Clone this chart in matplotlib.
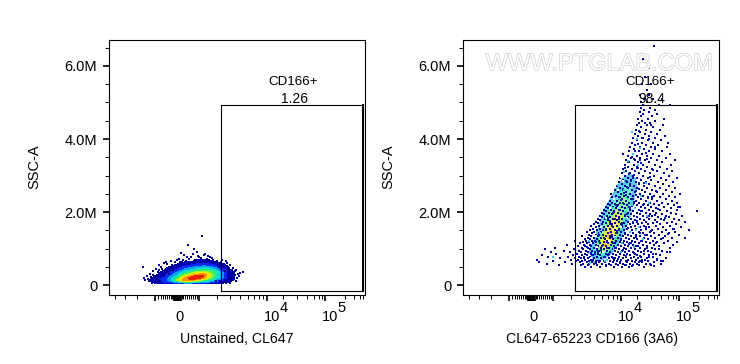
import matplotlib
matplotlib.use('Agg')
import matplotlib.pyplot as plt
import matplotlib.patheffects as pe

plt.rcParams['font.family'] = ['Liberation Sans', 'DejaVu Sans']

# x is in display channels (0-256 across the plot), y is SSC-A in millions
major_x = [46, 65, 66, 67, 68, 69, 70, 71, 72, 90, 158, 216]
minor_x = [6, 16, 28, 49, 52, 54, 56, 58, 60, 62, 63, 64, 73, 74, 76, 78, 80, 82, 84, 86, 88,
           108, 121, 131, 139, 145, 150, 154, 174, 188, 198, 205, 210, 213, 236, 245, 251, 254]
major_y = [0, 2, 4, 6]
minor_y = [0.5, 1, 1.5, 2.5, 3, 3.5, 4.5, 5, 5.5, 6.5]
y_labels = ['0', '2.0M', '4.0M', '6.0M']

gate_x = [112, 254]
gate_y = [-0.17, 4.93]

levels = [0.5, 1.5, 2.5, 3.5, 4.5, 5.5, 6.5, 7.5, 8.5, 11]
colors = ['#0000b0', '#0a28f0', '#00a0f0', '#10e0d0', '#30f070', '#b0f020', '#ffe800', '#ff9000', '#e82000']

# left panel, density
left_grid_x = [34, 40, 46, 52, 58, 64, 70, 76, 82, 88, 94, 100, 106, 112, 118, 124, 130]
left_grid_y = [0.03, 0.08, 0.14, 0.19, 0.25, 0.30, 0.36, 0.41, 0.47, 0.52, 0.58, 0.63, 0.68, 0.74]
left_grid = [
    [0, 0, 0, 0, 0, 0, 0, 0, 0, 0, 0, 0, 0, 0, 0, 0, 0],
    [0, 0, 1, 1.2, 1.8, 2.5, 3.5, 4.5, 4.5, 3.5, 3, 2.5, 1.8, 1.2, 0.7, 0, 0],
    [0, 0.6, 1.2, 1.6, 2.5, 4, 6.5, 8.5, 8.5, 7, 5.5, 4.2, 3, 2, 1, 0.6, 0],
    [0, 0, 0.8, 1.3, 2.2, 3.6, 5.5, 8, 9, 9, 8, 6, 4.2, 3, 1.4, 0.7, 0],
    [0, 0, 0.6, 1.1, 1.8, 3, 4.5, 6.5, 8, 9, 8.8, 6.8, 4.6, 3.2, 1.4, 0.7, 0],
    [0, 0, 0, 0.8, 1.4, 2.4, 3.6, 5, 6.2, 7.4, 8.2, 6.8, 4.8, 3.2, 1.4, 0.7, 0],
    [0, 0, 0, 0.6, 1.1, 1.8, 2.8, 4, 4.9, 5.8, 6, 5.5, 4.6, 3, 1.4, 0.7, 0],
    [0, 0, 0, 0, 0.8, 1.4, 2.1, 3, 3.6, 4.3, 4.8, 4.6, 3.8, 2.4, 1.2, 0, 0],
    [0, 0, 0, 0, 0.6, 1, 1.5, 2.2, 2.8, 3.2, 3.6, 3.5, 2.8, 1.6, 0.8, 0, 0],
    [0, 0, 0, 0, 0, 0.7, 1.1, 1.5, 1.9, 2.3, 2.6, 2.5, 1.8, 1, 0.6, 0, 0],
    [0, 0, 0, 0, 0, 0, 0.7, 1, 1.2, 1.5, 1.7, 1.6, 1.1, 0.7, 0, 0, 0],
    [0, 0, 0, 0, 0, 0, 0, 0.6, 0.8, 1, 1.1, 1, 0.7, 0, 0, 0, 0],
    [0, 0, 0, 0, 0, 0, 0, 0, 0, 0.6, 0.7, 0.6, 0, 0, 0, 0, 0],
    [0, 0, 0, 0, 0, 0, 0, 0, 0, 0, 0, 0, 0, 0, 0, 0, 0],
]
left_dots_x = [93, 79, 34, 134, 85, 88, 72, 96, 75, 82, 99, 103, 70, 66, 62, 58, 55, 50, 47, 44, 41, 38, 36, 40, 43, 46,
               52, 57, 63, 68, 74, 80, 86, 92, 98, 104, 108, 112, 115, 118, 121, 124, 127, 129, 126, 122, 117, 113, 110,
               106, 101, 95, 90, 84, 78, 73, 120, 125, 128, 131, 116, 111, 107, 35, 39, 42, 45, 48, 51, 54, 47, 53, 49,
               59, 61, 65, 69, 56, 60, 67, 71, 77, 83, 89, 91, 97, 100, 105, 109, 114, 119, 123, 118, 122, 125, 127,
               120, 124, 116, 112, 130, 117, 121, 126, 50, 44, 55, 60, 64]
left_dots_y = [1.34, 1.1, 0.49, 0.36, 0.98, 0.92, 0.88, 0.86, 0.83, 0.78, 0.8, 0.75, 0.72, 0.62, 0.66, 0.58, 0.6, 0.55,
               0.44, 0.38, 0.3, 0.24, 0.13, 0.1, 0.07, 0.17, 0.5, 0.63, 0.56, 0.68, 0.7, 0.72, 0.7, 0.74, 0.72, 0.69, 0.66,
               0.62, 0.58, 0.6, 0.55, 0.48, 0.42, 0.3, 0.28, 0.2, 0.66, 0.7, 0.5, 0.62, 0.78, 0.82, 0.76, 0.84, 0.76, 0.62,
               0.38, 0.33, 0.2, 0.32, 0.14, 0.1, 0.12, 0.2, 0.16, 0.22, 0.12, 0.27, 0.1, 0.33, 0.21, 0.44, 0.36, 0.47,
               0.41, 0.53, 0.58, 0.38, 0.5, 0.47, 0.62, 0.66, 0.64, 0.79, 0.66, 0.66, 0.7, 0.62, 0.58, 0.53, 0.45, 0.42,
               0.08, 0.15, 0.25, 0.11, 0.44, 0.28, 0.38, 0.45, 0.26, 0.05, 0.06, 0.39, 0.42, 0.28, 0.25, 0.3, 0.42]

# right panel, ridge of high density
right_grid_x = [118, 124, 130, 136, 142, 148, 154, 160, 166, 172, 178]
right_grid_y = [0.5, 0.7, 0.9, 1.1, 1.3, 1.5, 1.7, 1.9, 2.1, 2.3, 2.5, 2.7, 2.9, 3.1, 3.3, 3.5]
right_grid = [
    [0, 0, 0, 0, 0, 0, 0, 0, 0, 0, 0],
    [0, 1, 2, 3, 2, 1, 0, 0, 0, 0, 0],
    [0, 1.5, 4, 5, 5, 3, 1, 0, 0, 0, 0],
    [0, 0.6, 3, 5.5, 7.8, 5.5, 2.5, 0.8, 0, 0, 0],
    [0, 0, 1.5, 4.5, 7.2, 8, 4.5, 1.8, 0.6, 0, 0],
    [0, 0, 1, 3, 5.5, 7.8, 6, 3, 1, 0, 0],
    [0, 0, 0, 2, 4.5, 6.5, 7.2, 4.5, 2, 0.6, 0],
    [0, 0, 0, 1.5, 3.5, 5, 6.8, 5.5, 3, 1, 0],
    [0, 0, 0, 0.8, 2.5, 4, 5.5, 5.5, 4, 1.5, 0],
    [0, 0, 0, 0, 1.5, 3, 4.5, 5, 4.5, 2, 0.6],
    [0, 0, 0, 0, 0.8, 2, 3.2, 4.5, 4.5, 2.5, 1],
    [0, 0, 0, 0, 0, 1.2, 2.5, 3.5, 4, 3, 1.2],
    [0, 0, 0, 0, 0, 0.7, 1.8, 2.6, 3.2, 2.6, 1],
    [0, 0, 0, 0, 0, 0, 1, 1.8, 2.4, 2, 0.8],
    [0, 0, 0, 0, 0, 0, 0.6, 1, 1.6, 1.2, 0.6],
    [0, 0, 0, 0, 0, 0, 0, 0, 0, 0, 0],
]

# right panel speckle, one list of x for each y
right_rows_y = [0.5, 0.54, 0.58, 0.62, 0.66, 0.7, 0.74, 0.78, 0.82, 0.86, 0.9, 0.94, 0.98, 1.02, 1.06, 1.1, 1.14, 1.18, 1.22,
                1.26, 1.3, 1.34, 1.38, 1.42, 1.46, 1.5, 1.54, 1.58, 1.62, 1.66, 1.7, 1.74, 1.78, 1.82, 1.86, 1.9, 1.94, 1.98,
                2.02, 2.06, 2.1, 2.14, 2.18, 2.22, 2.26, 2.3, 2.35, 2.4, 2.45, 2.5, 2.55, 2.6, 2.65, 2.7, 2.76, 2.82, 2.88,
                2.94, 3.0, 3.06, 3.12, 3.18, 3.24, 3.3, 3.36, 3.42, 3.48, 3.54, 3.6, 3.66, 3.72, 3.78, 3.84, 3.9, 3.96, 4.02,
                4.08, 4.14, 4.2, 4.26, 4.32, 4.38, 4.44, 4.5, 4.56, 4.62, 4.68, 4.74, 4.8, 4.86, 4.92, 5.0, 5.1, 5.2, 5.35,
                5.5, 5.7, 5.95, 6.2, 6.55]
right_rows_x = [
    [122, 128, 137, 151, 159, 166, 181],
    [96, 118, 125, 134, 143, 148, 155, 162, 170, 176, 188],
    [84, 109, 120, 131, 139, 146, 153, 160, 167, 174, 183, 198],
    [76, 102, 117, 124, 129, 136, 142, 150, 157, 164, 172, 179, 191],
    [90, 113, 119, 126, 133, 141, 147, 154, 163, 169, 177, 185, 200],
    [74, 108, 115, 122, 128, 135, 144, 151, 158, 165, 173, 182, 194],
    [97, 112, 118, 125, 131, 138, 146, 152, 160, 168, 175, 184, 203],
    [85, 105, 116, 121, 127, 134, 141, 149, 156, 163, 171, 178, 190],
    [79, 110, 119, 124, 130, 137, 145, 153, 161, 167, 174, 186, 197],
    [93, 114, 122, 128, 135, 143, 150, 157, 164, 172, 181, 193],
    [88, 107, 118, 125, 132, 139, 147, 155, 162, 170, 178, 188, 204],
    [101, 116, 123, 129, 136, 144, 152, 159, 166, 175, 185, 199],
    [82, 111, 120, 127, 134, 141, 149, 156, 163, 172, 182, 192],
    [92, 119, 125, 131, 138, 146, 153, 161, 168, 177, 189, 207],
    [115, 122, 128, 135, 143, 151, 158, 165, 173, 184, 196],
    [104, 121, 127, 133, 140, 148, 155, 162, 170, 180, 191, 210],
    [117, 124, 130, 137, 145, 152, 160, 167, 176, 187, 201],
    [120, 126, 133, 141, 149, 157, 164, 172, 183, 194, 214],
    [112, 123, 129, 136, 144, 153, 161, 169, 179, 190, 205],
    [122, 127, 134, 142, 150, 158, 166, 174, 185, 198],
    [125, 131, 138, 147, 155, 163, 171, 181, 192, 209, 222],
    [119, 128, 135, 143, 152, 160, 168, 177, 188, 202],
    [126, 133, 140, 149, 157, 165, 173, 184, 196, 216],
    [129, 136, 145, 154, 162, 170, 180, 191, 206],
    [124, 131, 138, 148, 158, 167, 176, 187, 199, 212],
    [127, 134, 143, 152, 161, 169, 178, 189, 203, 226],
    [130, 137, 147, 156, 164, 173, 183, 195, 210],
    [133, 141, 150, 159, 168, 177, 186, 200, 218],
    [128, 136, 145, 154, 163, 172, 181, 193, 207],
    [131, 139, 149, 158, 167, 175, 185, 197, 213],
    [135, 143, 152, 161, 170, 179, 190, 204],
    [133, 140, 147, 156, 165, 174, 183, 194, 209, 222],
    [137, 145, 154, 163, 172, 181, 192, 201, 216],
    [135, 142, 150, 159, 168, 177, 186, 198, 211],
    [139, 147, 156, 165, 174, 184, 195, 206],
    [137, 144, 153, 162, 171, 180, 189, 203, 219],
    [141, 149, 158, 168, 177, 187, 199, 213],
    [139, 146, 155, 165, 174, 183, 193, 208],
    [143, 151, 160, 170, 179, 190, 204, 234],
    [141, 148, 157, 167, 176, 186, 197, 214],
    [145, 153, 162, 172, 182, 193, 208],
    [143, 150, 159, 169, 178, 188, 201, 217],
    [147, 155, 164, 174, 185, 196, 211],
    [145, 152, 161, 171, 181, 191, 205],
    [149, 157, 166, 176, 187, 199, 214],
    [147, 154, 163, 173, 183, 194, 209],
    [151, 159, 168, 178, 189, 203],
    [149, 156, 165, 175, 185, 197, 212],
    [153, 161, 170, 180, 191, 206],
    [148, 158, 167, 177, 187, 200, 217],
    [155, 163, 172, 182, 194, 209],
    [152, 160, 169, 179, 189, 203],
    [157, 165, 174, 184, 197, 212],
    [154, 162, 171, 181, 192, 206],
    [159, 167, 176, 186, 200],
    [156, 164, 173, 183, 195, 210],
    [160, 168, 178, 188, 203],
    [157, 165, 174, 185, 198, 214],
    [162, 170, 180, 191, 206],
    [159, 167, 176, 187, 201],
    [163, 172, 182, 194, 209],
    [160, 169, 178, 189, 204],
    [165, 174, 184, 197],
    [162, 171, 180, 192, 208],
    [166, 175, 186, 199],
    [163, 172, 182, 194, 212],
    [168, 177, 188, 203],
    [165, 174, 184, 196],
    [160, 170, 179, 190, 207],
    [166, 176, 186, 199],
    [171, 181, 192],
    [167, 177, 188, 204],
    [172, 183, 195],
    [169, 179, 190, 205],
    [174, 185, 198],
    [170, 180, 192],
    [175, 186, 202],
    [172, 182, 194],
    [177, 188],
    [173, 183, 197],
    [178, 190],
    [174, 184, 200],
    [176, 187],
    [179, 192],
    [175, 185, 201],
    [178, 189],
    [180, 194],
    [177, 186],
    [181, 192],
    [178, 187],
    [180, 196, 207],
    [178, 184],
    [181, 190, 199],
    [177, 186],
    [184],
    [179, 188],
    [182],
    [186],
    [180],
    [191],
]
# more blue dots between the rows, so the speckle is not so regular
right_extra_x = [126, 133, 148, 157, 169, 176, 187, 194, 121, 130, 142, 155, 163, 179, 186, 128, 135, 146, 160, 171, 181,
                 190, 124, 139, 152, 166, 175, 184, 196, 132, 144, 158, 168, 178, 193, 136, 149, 162, 173, 182, 200, 140,
                 154, 165, 177, 188, 205, 147, 159, 170, 183, 197, 145, 156, 174, 186, 202, 151, 164, 178, 192, 154, 167,
                 180, 195, 158, 171, 185, 161, 173, 189, 164, 176, 193, 168, 181, 171, 187, 174, 190, 178, 169, 184, 172,
                 183, 175, 192, 179, 186, 176, 182, 188, 143, 137, 150, 129, 134, 163, 177, 191, 198, 207, 211, 215]
right_extra_y = [0.57, 0.61, 0.55, 0.6, 0.53, 0.64, 0.59, 0.71, 0.73, 0.68, 0.76, 0.72, 0.81, 0.69, 0.77, 0.88, 0.92, 0.85,
                 0.96, 0.87, 0.93, 0.84, 1.04, 1.08, 1.01, 1.12, 1.07, 1.03, 0.99, 1.2, 1.17, 1.24, 1.16, 1.21, 1.15, 1.37,
                 1.32, 1.4, 1.33, 1.36, 1.29, 1.52, 1.48, 1.56, 1.44, 1.49, 1.41, 1.68, 1.64, 1.72, 1.6, 1.67, 1.84, 1.8,
                 1.76, 1.88, 1.83, 2.0, 1.96, 2.04, 1.92, 2.16, 2.12, 2.2, 2.09, 2.33, 2.28, 2.38, 2.52, 2.47, 2.42, 2.68,
                 2.63, 2.58, 2.85, 2.79, 3.02, 2.96, 3.2, 3.15, 3.34, 3.5, 3.44, 3.68, 3.62, 3.86, 3.79, 4.04, 4.0, 4.22,
                 4.45, 4.38, 0.52, 0.65, 0.75, 0.83, 0.95, 0.56, 0.8, 0.52, 0.66, 0.9, 1.55, 2.15]
# dark specks on top of the ridge, with white holes in it
ridge_dark_x = [132, 138, 144, 150, 136, 141, 147, 153, 143, 149, 156, 147, 152, 159, 150, 156, 162, 153, 160, 166, 157,
                163, 170, 160, 167, 173, 163, 170, 176, 166, 172, 162, 168, 175, 165, 171, 177]
ridge_dark_y = [0.85, 0.95, 1.02, 1.14, 1.2, 1.28, 1.35, 1.42, 1.55, 1.62, 1.5, 1.75, 1.82, 1.7, 1.98, 2.05, 1.92, 2.2,
                2.26, 2.15, 2.4, 2.48, 2.36, 2.62, 2.7, 2.58, 2.85, 2.92, 2.8, 3.05, 3.12, 3.22, 3.28, 3.2, 3.38, 3.45, 3.42]
ridge_white_x = [128, 134, 140, 133, 146, 138, 143, 152, 147, 158, 151, 164, 155, 169, 160, 173, 164, 176, 158, 168, 172]
ridge_white_y = [0.75, 1.05, 0.9, 1.35, 1.22, 1.6, 1.85, 1.32, 2.1, 1.6, 2.35, 1.85, 2.6, 2.1, 2.85, 2.4, 3.05, 2.7, 2.95,
                 3.3, 2.2]
right_cyan_x = [131, 144, 158, 171, 126, 152, 167, 139, 176, 148, 163, 184, 156, 172, 161, 178, 168, 175, 183, 170, 174, 90,
                127, 135, 142, 137, 150, 155, 161, 165, 159, 180, 173, 186, 162, 177, 169]
right_cyan_y = [0.62, 0.7, 0.9, 1.05, 1.2, 1.3, 1.45, 0.8, 1.6, 0.98, 1.8, 1.9, 2.35, 2.1, 2.6, 2.45, 3.0, 3.3, 2.8, 3.6, 4.0,
                0.78, 0.6, 0.72, 0.67, 1.42, 2.1, 2.75, 3.1, 3.4, 1.15, 1.25, 1.5, 2.25, 2.0, 3.75, 4.2]


def setup(ax, xlabel, gate_name, gate_value, label_x, name_x, value_x):
    ax.set_xlim(0, 256)
    ax.set_ylim(-0.27, 6.71)
    ax.set_xticks(major_x)
    ax.set_xticks(minor_x, minor=True)
    ax.set_xticklabels([])
    ax.set_yticks(major_y)
    ax.set_yticks(minor_y, minor=True)
    ax.set_yticklabels(y_labels, fontsize=10.5)
    ax.tick_params(which='major', length=4.5, width=1.2, pad=4)
    ax.tick_params(which='minor', length=2.6, width=0.7)
    trans = ax.get_xaxis_transform()
    ax.text(71, -0.086, '0', transform=trans, ha='center', va='center', fontsize=10.5)
    ax.text(163, -0.086, '10', transform=trans, ha='center', va='center', fontsize=10.5)
    ax.text(175, -0.05, '4', transform=trans, ha='center', va='center', fontsize=10.5)
    ax.text(221, -0.086, '10', transform=trans, ha='center', va='center', fontsize=10.5)
    ax.text(233, -0.05, '5', transform=trans, ha='center', va='center', fontsize=10.5)
    ax.text(label_x, -0.173, xlabel, transform=trans, ha='center', va='center', fontsize=10.2)
    ax.text(-0.29, 0.505, 'SSC-A', transform=ax.transAxes, rotation=90, ha='center', va='center', fontsize=10.5)
    ax.plot([gate_x[0], gate_x[0], gate_x[1], gate_x[1], gate_x[0]],
            [gate_y[0], gate_y[1], gate_y[1], gate_y[0], gate_y[0]], color='black', lw=0.8, zorder=5)
    ax.plot([gate_x[1], gate_x[1]], gate_y, color='black', lw=1.5, zorder=5)
    ax.text(name_x, 5.56, gate_name, ha='center', va='center', fontsize=9.6, zorder=6)
    ax.text(value_x, 5.1, gate_value, ha='center', va='center', fontsize=10, zorder=6)


fig = plt.figure(figsize=(7.4, 3.64), dpi=100)
ax1 = fig.add_axes([109 / 740, 1 - 295 / 364, 256 / 740, 255 / 364])
ax2 = fig.add_axes([463 / 740, 1 - 295 / 364, 256 / 740, 255 / 364])

ax1.contourf(left_grid_x, left_grid_y, left_grid, levels=levels, colors=colors)
ax1.scatter(left_dots_x, left_dots_y, marker='s', s=1.0, linewidths=0, color='#000090')
setup(ax1, 'Unstained, CL647', 'CD166+', '1.26', 128, 184, 186)

# no dark blue band here, the edge of the ridge is only speckle
ax2.contourf(right_grid_x, right_grid_y, right_grid, levels=levels[2:], colors=colors[2:], alpha=0.6)
xs = []
ys = []
for y, row in zip(right_rows_y, right_rows_x):
    xs += row
    ys += [y] * len(row)
ax2.scatter(xs, ys, marker='s', s=0.9, linewidths=0, color='#000090')
ax2.scatter(right_extra_x, right_extra_y, marker='s', s=0.9, linewidths=0, color='#0010c0')
ax2.scatter(ridge_dark_x, ridge_dark_y, marker='s', s=1.2, linewidths=0, color='#102090')
ax2.scatter(ridge_white_x, ridge_white_y, marker='s', s=1.6, linewidths=0, color='white')
ax2.scatter(right_cyan_x, right_cyan_y, marker='s', s=1.0, linewidths=0, color='#40c8d8')
setup(ax2, 'CL647-65223 CD166 (3A6)', 'CD166+', '98.4', 129, 187, 189)

fig.text(599 / 740, 1 - 64 / 364, 'WWW.PTGLAB.COM', fontsize=17, ha='center', va='center', color='white', zorder=10,
         path_effects=[pe.withStroke(linewidth=0.9, foreground='#cccccc')])

fig.savefig('out.png', dpi=100)
